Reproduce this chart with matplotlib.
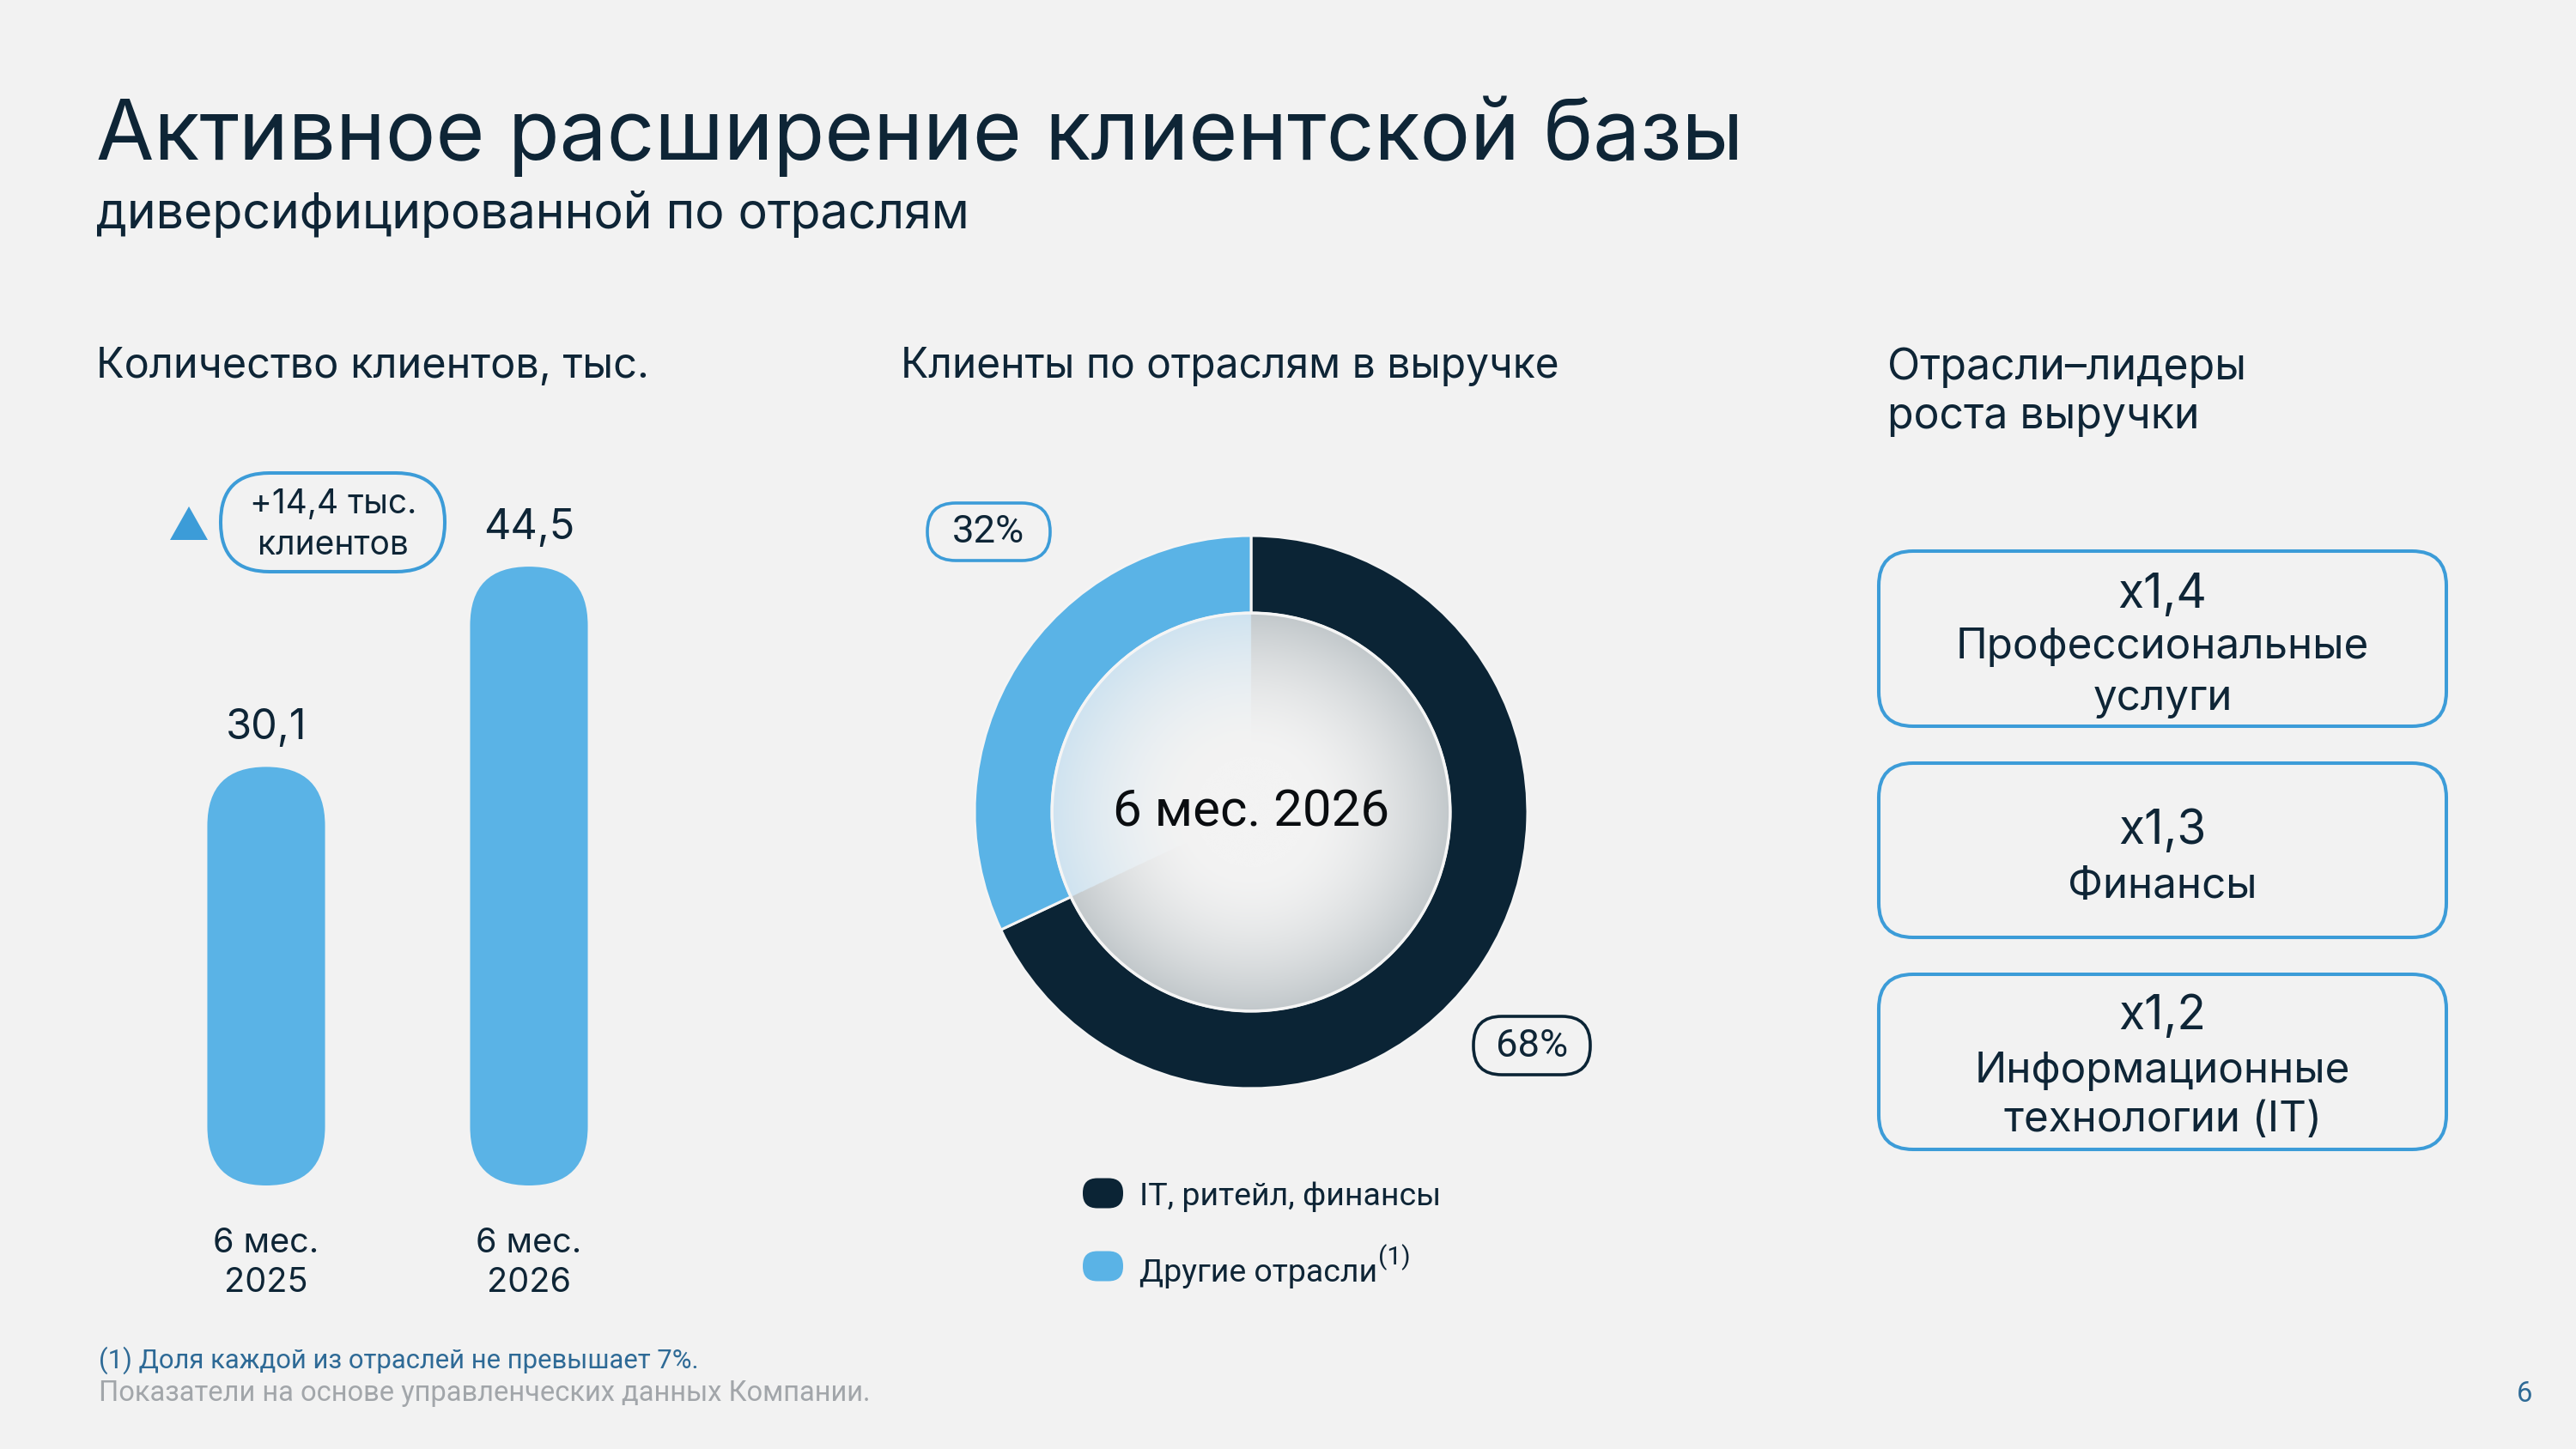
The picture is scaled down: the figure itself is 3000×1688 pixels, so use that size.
import numpy as np
import matplotlib
matplotlib.use("Agg")
import matplotlib.pyplot as plt
from matplotlib.patches import FancyBboxPatch, Polygon, Circle

# ---------------- data ----------------
bar_categories = ["6 мес.\n2025", "6 мес.\n2026"]
clients_k = [30.1, 44.5]
growth_unit = "тыс.\nклиентов"

segment_names = ["IT, ритейл, финансы", "Другие отрасли"]
segment_shares = [68, 32]
donut_center_label = "6 мес. 2026"

leader_names = ["Профессиональные\nуслуги", "Финансы", "Информационные\nтехнологии (IT)"]
leader_multipliers = [1.4, 1.3, 1.2]

title = "Активное расширение клиентской базы"
subtitle = "диверсифицированной по отраслям"
heading_bars = "Количество клиентов, тыс."
heading_donut = "Клиенты по отраслям в выручке"
heading_leaders = "Отрасли–лидеры\nроста выручки"
footnote_1 = "(1) Доля каждой из отраслей не превышает 7%."
footnote_2 = "Показатели на основе управленческих данных Компании."
page_number = "6"

# ---------------- style ----------------
BG = "#F2F2F2"
NAVY = "#0B2435"
TXT = "#0E2536"
LIGHT = "#5AB3E6"
EDGE_BLUE = "#3C9CD8"
FN_BLUE = "#2E6A96"
FN_GRAY = "#A2A6AA"
F_MAIN = ["Inter", "DejaVu Sans"]
F_ALT = ["Roboto", "DejaVu Sans"]

W, H = 3000, 1688
fig = plt.figure(figsize=(30, 16.88), dpi=100, facecolor=BG)
renderer = fig.canvas.get_renderer()


def px_axes(x0, y0, x1, y1, z=1):
    a = fig.add_axes([x0 / W, 1 - y1 / H, (x1 - x0) / W, (y1 - y0) / H], zorder=z)
    a.patch.set_alpha(0)
    return a


def fmt(v):
    return f"{v:.1f}".replace(".", ",")


def fit(t, target_w):
    bb = t.get_window_extent(renderer)
    t.set_fontsize(t.get_fontsize() * target_w / bb.width)
    return t


# overlay axes in pixel coordinates
ov = fig.add_axes([0, 0, 1, 1], zorder=0)
ov.set_xlim(0, W)
ov.set_ylim(H, 0)
ov.axis("off")


def T(x, y, s, size, color=TXT, fam=F_MAIN, ha="left", va="baseline", **kw):
    return ov.text(x, y, s, fontsize=size, color=color, family=fam, ha=ha, va=va, **kw)


def pill(x0, y0, x1, y1, r, ec, fc="none", lw=2.9, z=2):
    p = FancyBboxPatch((x0, y0), x1 - x0, y1 - y0,
                       boxstyle=f"round,pad=0,rounding_size={r}",
                       fc=fc, ec=ec, lw=lw, zorder=z)
    ov.add_patch(p)
    return p


# ---------------- titles ----------------
fit(T(112, 186, title, 72), 1920)
fit(T(112, 266, subtitle, 44), 1020)
fit(T(112, 440, heading_bars, 35), 644)
fit(T(1049, 440, heading_donut, 35), 766)
hl = T(2198, 442, heading_leaders.split("\n")[0], 35)
fit(hl, 418)
T(2198, 499, heading_leaders.split("\n")[1], hl.get_fontsize())

# ---------------- bar chart ----------------
bx = px_axes(157, 571, 769, 1381)
bx.set_xlim(-0.5, 1.5)
bx.set_ylim(0, 50)
for s in bx.spines.values():
    s.set_visible(False)
bx.set_yticks([])
bar_w = 0.448
ppx = (769 - 157) / 2.0
ppy = (1381 - 571) / 50.0
xpos = np.arange(len(clients_k))
for i, v in zip(xpos, clients_k):
    bx.add_patch(FancyBboxPatch((i - bar_w / 2, 0), bar_w, v,
                                boxstyle=f"round,pad=0,rounding_size={bar_w / 2}",
                                mutation_aspect=ppx / ppy, fc=LIGHT, ec="none"))
    bx.annotate(fmt(v), (i, v), xytext=(0, 16), textcoords="offset points",
                ha="center", va="bottom", fontsize=35, color=TXT, family=F_MAIN)
bx.set_xticks(xpos, bar_categories, fontsize=28.5, color=TXT, family=F_MAIN,
              linespacing=1.33)
bx.tick_params(axis="x", length=0, pad=35)

# growth badge
growth = clients_k[1] - clients_k[0]
ov.add_patch(Polygon([(198, 629), (242, 629), (220, 590)], closed=True,
                     fc=EDGE_BLUE, ec="none"))
pill(257, 551, 518, 666, 57, EDGE_BLUE)
gl = growth_unit.split("\n")
T(388, 598, f"+{fmt(growth)} {gl[0]}", 28, ha="center")
T(388, 646, gl[1], 28, ha="center")

# ---------------- donut ----------------
cx, cy, R = 1457, 946, 322
pa = px_axes(cx - R, cy - R, cx + R, cy + R)
inner = 0.72
pa.pie(segment_shares, colors=[NAVY, LIGHT], startangle=90, counterclock=False,
       radius=1, wedgeprops=dict(width=1 - inner, edgecolor="#F4F4F4", linewidth=2.2))
pa.set_xlim(-1, 1)
pa.set_ylim(-1, 1)
pa.set_aspect("equal")

N = 700
g = np.linspace(-inner, inner, N)
X, Y = np.meshgrid(g, g)
r = np.hypot(X, Y) / inner
ang = np.degrees(np.arctan2(Y, X)) % 360
light_end = 90 + 360 * segment_shares[1] / sum(segment_shares)
in_light = (ang >= 90) & (ang <= light_end)
center_c = np.array([243, 243, 243]) / 255
gray_c = np.array([194, 200, 203]) / 255
blue_c = np.array([207, 227, 240]) / 255
edge_c = np.where(in_light[..., None], blue_c, gray_c)
t = np.clip((r - 0.28) / 0.72, 0, 1) ** 1.7
img = center_c * (1 - t[..., None]) + edge_c * t[..., None]
im = pa.imshow(img, extent=(-inner, inner, -inner, inner), origin="lower",
               interpolation="bilinear", zorder=3)
clip = Circle((0, 0), inner, transform=pa.transData)
im.set_clip_path(clip)
pa.add_patch(Circle((0, 0), inner, fill=False, ec="#F5F5F5", lw=2.5, zorder=4))
ct = pa.text(0, 0, donut_center_label, ha="center", va="center", fontsize=42,
             color="#0A0D10", family=F_ALT, zorder=5)
fit(ct, 322)

# percentage pills
pill(1080, 586, 1223, 653, 33, EDGE_BLUE, lw=2.6)
p1 = T(1151, 620, f"{segment_shares[1]}%", 30, ha="center", va="center", fam=F_ALT)
fit(p1, 84)
pill(1716, 1184, 1852, 1252, 33, NAVY, lw=2.6)
p2 = T(1784, 1219, f"{segment_shares[0]}%", 30, ha="center", va="center", fam=F_ALT)
p2.set_fontsize(p1.get_fontsize())

# legend
leg_cols = [NAVY, LIGHT]
leg_y = [1390, 1475]
leg_base = [1404, 1493]
for name, col, yc, yb in zip(segment_names, leg_cols, leg_y, leg_base):
    pill(1261, yc - 17.5, 1308, yc + 17.5, 17, "none", fc=col, lw=0)
    lt = T(1327, yb, name, 28, fam=F_ALT)
    if name == segment_names[0]:
        fit(lt, 351)
        leg_fs = lt.get_fontsize()
    else:
        lt.set_fontsize(leg_fs)
        bb = lt.get_window_extent(renderer)
        T(bb.x1 + 1, yb - 20, "(1)", leg_fs * 0.8, fam=F_ALT)

# ---------------- leader boxes ----------------
boxes = [(642, 846), (889, 1092), (1135, 1339)]
mult_base = [708, 983, 1199]
name_base = [[767, 827], [1046], [1261, 1318]]
bxc = (2188 + 2849) / 2
name_fs = None
mult_fs = None
for (y0, y1), m, nm, mb, nb in zip(boxes, leader_multipliers, leader_names, mult_base, name_base):
    pill(2188, y0, 2849, y1, 40, EDGE_BLUE)
    mt = T(bxc, mb, f"x{fmt(m)}", 40, ha="center")
    if mult_fs is None:
        fit(mt, 104)
        mult_fs = mt.get_fontsize()
    else:
        mt.set_fontsize(mult_fs)
    for line, b in zip(nm.split("\n"), nb):
        tt = T(bxc, b, line, 34, ha="center")
        if name_fs is None:
            fit(tt, 481)
            name_fs = tt.get_fontsize()
        else:
            tt.set_fontsize(name_fs)

# ---------------- footnotes ----------------
f1 = fit(T(115, 1594, footnote_1, 21, color=FN_BLUE, fam=F_ALT), 698)
f2 = fit(T(115, 1632, footnote_2, 21, color=FN_GRAY, fam=F_ALT), 899)
T(2940, 1633, page_number, f2.get_fontsize(), color=FN_BLUE, fam=F_ALT, ha="center")

fig.savefig("out.png", dpi=100, facecolor=BG)
